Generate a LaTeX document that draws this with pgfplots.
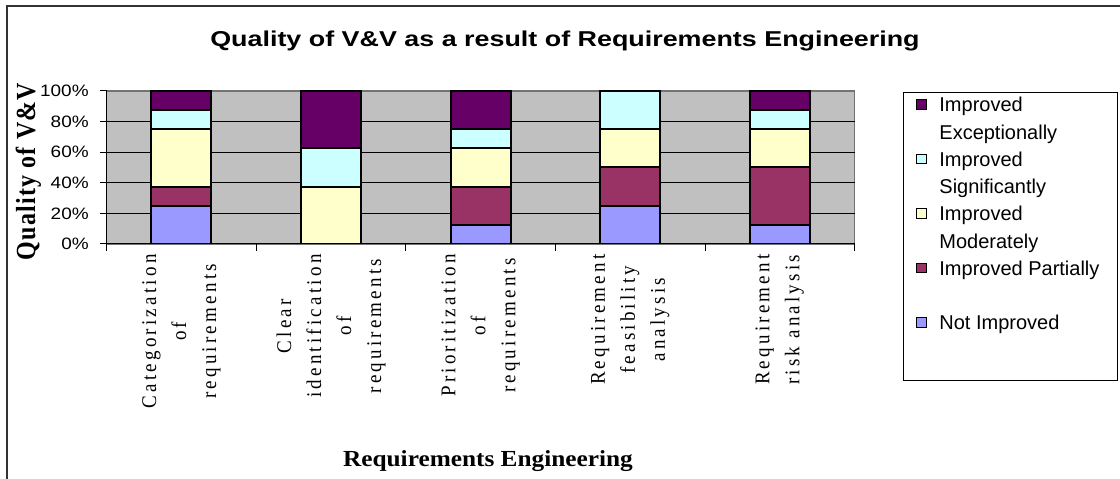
\documentclass[border=0pt]{standalone}
\usepackage{pgfplots}
\pgfplotsset{compat=1.18}
\usepackage{fontspec}
\setmainfont{Liberation Sans}
\newfontfamily\serifrm{Liberation Serif}
\newfontfamily\serifls{Liberation Serif}[LetterSpace=17]
\newfontfamily\serifyl{Liberation Serif}[LetterSpace=5]
\definecolor{cExc}{HTML}{660066}
\definecolor{cSig}{HTML}{CCFFFF}
\definecolor{cMod}{HTML}{FFFFCC}
\definecolor{cPar}{HTML}{993366}
\definecolor{cNot}{HTML}{9999FF}
\definecolor{cBg}{HTML}{C0C0C0}
\newcommand\ls{\rule[-8bp]{0pt}{27.5bp}}
\newcommand\yt[1]{\scalebox{1.15}[1]{#1}}
\newcommand\xl[1]{\scalebox{1}[1.1]{#1}}
\pgfplotsset{notimg/.style={legend image code/.code={\draw[##1,draw=black,line width=0.8bp] (0bp,51.5bp) rectangle (9.5bp,61bp); \path[draw=none,fill=none] (-13bp,51.5bp) -- (23bp,51.5bp);}}}
\begin{document}
\begin{tikzpicture}[x=1bp,y=1bp]
\useasboundingbox (0,0) rectangle (1120,479);
\draw[line width=2bp, black!80] (6.7,-2) -- (6.7,473) -- (1122,473);
\begin{axis}[
  at={(106.7bp,235bp)}, anchor=south west,
  width=747.9bp, height=153bp, scale only axis,
  xmin=-0.5, xmax=4.5, ymin=0, ymax=100,
  ybar stacked, bar width=60bp,
  axis lines=left, axis line style={-, black, line width=1bp},
  axis background/.style={fill=cBg, draw=black!55, line width=1.2bp},
  tick align=outside, major tick length=7bp,
  tick style={black, line width=1bp},
  xtick={-0.5,0.5,1.5,2.5,3.5,4.5},
  xticklabels={,,,,,},
  extra x ticks={0,1,2,3,4},
  extra x tick labels={{\xl{Categorization}\\\xl{of}\\\xl{requirements}},{\xl{Clear}\\\xl{identification}\\\xl{of}\\\xl{requirements}},{\xl{Prioritization}\\\xl{of}\\\xl{requirements}},{\xl{Requirement}\\\xl{feasibility}\\\xl{analysis}},{\xl{Requirement}\\\xl{risk analysis}}},
  extra x tick style={major tick length=0pt},
  xticklabel style={yshift=-7bp, rotate=90, anchor=east, align=center, font=\fontsize{19bp}{30bp}\selectfont\serifls},
  ytick={0,20,40,60,80,100},
  yticklabels={\yt{0\%},\yt{20\%},\yt{40\%},\yt{60\%},\yt{80\%},\yt{100\%}},
  yticklabel style={font=\fontsize{16.5bp}{18bp}\selectfont, anchor=east, xshift=-7.5bp},
  extra y ticks={20,40,60,80},
  extra y tick labels={},
  extra y tick style={grid=major, major tick length=0pt},
  major grid style={black, line width=0.8bp},
  every axis plot/.append style={draw=black, line width=2bp},
  reverse legend,
  legend cell align=left,
  legend style={at={(1,1)}, anchor=north west, xshift=48.4bp, yshift=-1bp,
    draw=black, line width=0.8bp, fill=white, inner sep=0pt,
    row sep=6bp, column sep=0pt,
    font=\fontsize{20bp}{27.5bp}\selectfont,
    cells={anchor=base west, align=left, inner sep=0pt},
    nodes={inner sep=0pt}},
  legend image code/.code={\draw[#1,draw=black,line width=0.8bp] (0bp,30bp) rectangle (9.5bp,39.5bp); \path[draw=none,fill=none] (-13bp,30bp) -- (23bp,30bp);},
]
\addplot[fill=cNot, notimg] coordinates {(0,25) (1,0) (2,12.5) (3,25) (4,12.5)};
\addlegendentry{\ls Not Improved\\\ls\\[-6bp]\rule{0pt}{1bp}}
\addplot[fill=cPar] coordinates {(0,12.5) (1,0) (2,25) (3,25) (4,37.5)};
\addlegendentry{\ls\makebox[178bp][l]{Improved Partially}\\\ls}
\addplot[fill=cMod] coordinates {(0,37.5) (1,37.5) (2,25) (3,25) (4,25)};
\addlegendentry{\ls Improved\\\ls Moderately}
\addplot[fill=cSig] coordinates {(0,12.5) (1,25) (2,12.5) (3,25) (4,12.5)};
\addlegendentry{\ls Improved\\\ls Significantly}
\addplot[fill=cExc] coordinates {(0,12.5) (1,37.5) (2,25) (3,0) (4,12.5)};
\addlegendentry{\ls Improved\\\ls Exceptionally}
\end{axis}
\node[anchor=base] at (565,432.3) {\scalebox{1.25}[1]{\fontsize{21.5bp}{26bp}\selectfont\bfseries Quality of V\&V as a result of Requirements Engineering}};
\node[rotate=90, anchor=base] at (35,307.5) {\scalebox{1}[1.15]{\fontsize{24bp}{26bp}\selectfont\serifyl\bfseries Quality of V\&V}};
\node[anchor=base] at (488,12) {\scalebox{1.1}[1]{\fontsize{23bp}{26bp}\selectfont\serifrm\bfseries Requirements Engineering}};
\end{tikzpicture}
\end{document}
